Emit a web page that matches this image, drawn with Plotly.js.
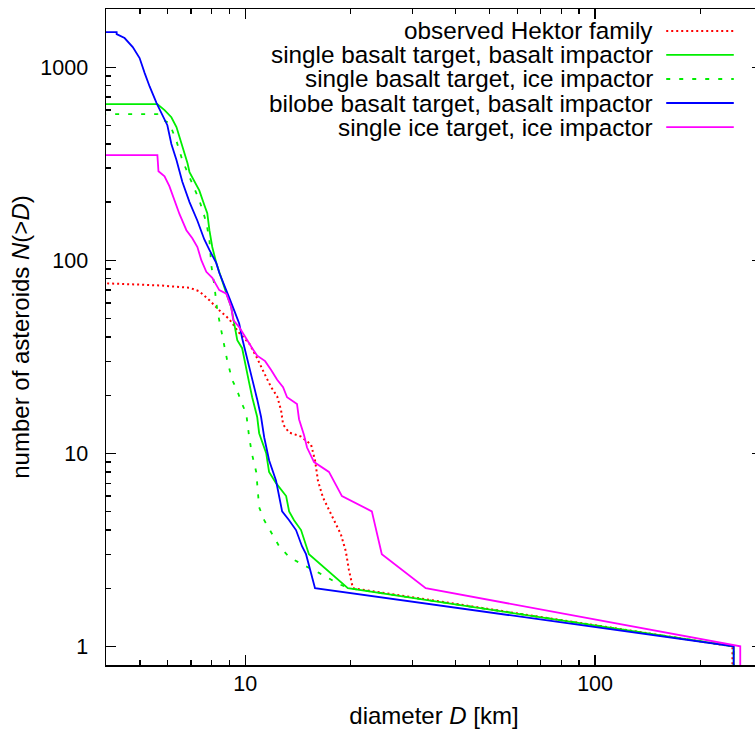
<!DOCTYPE html>
<html><head><meta charset="utf-8">
<script src="https://cdn.plot.ly/plotly-3.0.1.min.js"></script>
<style>html,body{margin:0;padding:0;overflow:hidden;background:#fff}#chart{width:770px;height:738px}</style>
</head><body><div id="chart"></div>
<script>
// observed Hektor family
const hektorD = [3.9, 5.69, 6.93, 7.39, 7.90, 8.43, 9.00, 9.61, 10.27, 10.82, 11.33, 11.86, 12.34, 12.66, 12.83, 13.35, 14.44, 15.42, 15.83, 16.14, 16.68, 17.69, 18.77, 19.39, 19.78, 20.31, 247, 247];
const hektorN = [76, 74, 72, 69, 62, 55, 49.5, 42, 37, 31, 26, 22, 19.7, 16.7, 14.1, 12.8, 12.2, 11.1, 9.2, 7.2, 5.9, 4.7, 3.8, 3.1, 2.5, 2, 1, 0.1];
// single basalt target, basalt impactor
const sbbD = [3.9, 5.61, 5.88, 6.15, 6.36, 6.61, 6.84, 6.93, 7.16, 7.39, 7.64, 7.79, 7.90, 8.05, 8.27, 8.54, 8.83, 9.12, 9.30, 9.49, 9.80, 10.07, 10.27, 10.47, 10.82, 10.96, 11.48, 11.70, 12.25, 13.09, 13.35, 13.79, 14.44, 15.21, 19.65, 249, 249];
const sbbN = [643, 643, 599, 550, 489, 394, 318, 286, 254, 230, 193, 175, 143, 117, 96.5, 80, 67.5, 57, 47, 38.5, 35, 28, 23, 19.5, 15.4, 12.7, 10, 8, 7, 6, 5, 4.5, 4, 3, 2, 1, 0.1];
// single basalt target, ice impactor
const sbiD = [3.9, 5.61, 5.69, 6.07, 6.36, 6.61, 6.93, 7.25, 7.39, 7.74, 7.90, 8.00, 8.16, 8.32, 8.54, 8.71, 8.89, 9.18, 9.49, 9.80, 10.07, 10.27, 10.47, 10.75, 10.96, 11.33, 11.86, 12.50, 13.35, 14.53, 16.25, 18.53, 19.78, 249, 249];
const sbiN = [571, 571, 544, 513, 414, 330, 269, 225, 205, 157, 127, 94, 74, 55, 43, 35, 30, 24, 21, 18, 16, 12, 9.8, 8, 5.25, 4.5, 3.9, 3.3, 2.9, 2.66, 2.4, 2.1, 2, 1, 0.1];
// bilobe basalt target, basalt impactor
const bbbD = [3.9, 4.29, 4.29, 4.52, 4.77, 4.99, 5.16, 5.33, 5.58, 5.80, 5.99, 6.15, 6.36, 6.61, 6.93, 7.30, 7.64, 7.90, 8.27, 8.43, 8.71, 9.00, 9.37, 9.61, 9.80, 10.13, 10.47, 10.82, 11.10, 11.33, 11.70, 12.25, 12.75, 13.35, 13.97, 14.53, 14.92, 15.83, 249, 249];
const bbbN = [1518, 1518, 1483, 1414, 1270, 1114, 931, 794, 651, 564, 500, 400, 330, 255, 200, 160, 128, 113, 96.5, 86, 75, 64, 53, 47, 39.4, 31.4, 24.2, 19, 15.4, 12.1, 9.2, 7.2, 5, 4.5, 4, 3.3, 3, 2, 1, 0.1];
// single ice target, ice impactor
const siiD = [3.9, 5.61, 5.65, 5.88, 6.07, 6.28, 6.49, 6.79, 7.06, 7.30, 7.49, 7.74, 8.05, 8.43, 8.83, 9.12, 9.24, 9.61, 10.07, 10.47, 10.82, 11.40, 11.86, 12.34, 12.83, 13.17, 14.06, 14.25, 14.73, 15.02, 15.73, 17.35, 18.90, 23.01, 24.57, 32.8, 260, 260];
const siiN = [350, 350, 289, 272, 242, 205, 173, 143, 130, 117, 100, 87, 81, 70, 67, 57, 49, 45, 39, 35, 32, 30, 27, 24, 22, 19.5, 18, 15, 12.4, 10.7, 9, 8, 6, 5, 3, 2, 1, 0.1];

const seriesNames = ['observed Hektor family', 'single basalt target, basalt impactor', 'single basalt target, ice impactor', 'bilobe basalt target, basalt impactor', 'single ice target, ice impactor'];
const xTickVals = [10, 100];
const xTickText = ['10', '100'];
const yTickVals = [1, 10, 100, 1000];
const yTickText = ['1', '10', '100', '1000'];
const xMinorVals = [5, 6, 7, 8, 9, 20, 30, 40, 50, 60, 70, 80, 90, 200];
const yMinorVals = [2, 3, 4, 5, 6, 7, 8, 9, 20, 30, 40, 50, 60, 70, 80, 90, 200, 300, 400, 500, 600, 700, 800, 900];

const FONT = '"Liberation Sans", Arial, Helvetica, sans-serif';
const styles = [
  {color: '#ff0000', dash: '2px,3px', width: 2},
  {color: '#00ee00', dash: 'solid', width: 1.8},
  {color: '#00ee00', dash: '4px,9px', width: 1.8},
  {color: '#0000ff', dash: 'solid', width: 1.8},
  {color: '#ff00ff', dash: 'solid', width: 1.8}
];
const xs = [hektorD, sbbD, sbiD, bbbD, siiD];
const ys = [hektorN, sbbN, sbiN, bbbN, siiN];

const traces = xs.map((x, i) => ({
  x: x, y: ys[i], type: 'scatter', mode: 'lines', name: seriesNames[i],
  line: {color: styles[i].color, dash: styles[i].dash, width: styles[i].width},
  showlegend: false, hoverinfo: 'skip'
}));

// legend drawn gnuplot-style: right-aligned text, sample line to the right
const rowY = [0.9665, 0.930, 0.8933, 0.8567, 0.820];
const annotations = seriesNames.map((t, i) => ({
  text: t, xref: 'paper', yref: 'paper', x: 0.837, y: rowY[i],
  xanchor: 'right', yanchor: 'middle', showarrow: false,
  font: {family: FONT, size: 24.3, color: '#000'}
}));
const shapes = seriesNames.map((t, i) => ({
  type: 'line', xref: 'paper', yref: 'paper', x0: 0.854, x1: 0.957, y0: rowY[i], y1: rowY[i],
  line: {color: styles[i].color, dash: styles[i].dash, width: styles[i].width}
}));

const axisCommon = {
  type: 'log', showgrid: false, zeroline: false,
  showline: true, linecolor: '#000', linewidth: 1.5, mirror: 'ticks',
  ticks: 'inside', ticklen: 10, tickwidth: 1.2, tickcolor: '#000',
  tickmode: 'array',
  tickfont: {family: FONT, size: 21.5, color: '#000'}
};

const layout = {
  width: 770, height: 738,
  margin: {l: 106, r: 8, t: 9, b: 73},
  paper_bgcolor: '#fff', plot_bgcolor: '#fff',
  font: {family: FONT, size: 22.5, color: '#000'},
  xaxis: Object.assign({}, axisCommon, {
    range: [Math.log10(4), Math.log10(300)],
    tickvals: xTickVals, ticktext: xTickText,
    minor: {tickmode: 'array', tickvals: xMinorVals, ticks: 'inside', ticklen: 5, tickwidth: 1.2, tickcolor: '#000'},
    ticklabelstandoff: -1,
    title: {text: 'diameter <i>D</i> [km]', font: {family: FONT, size: 24}, standoff: 12}
  }),
  yaxis: Object.assign({}, axisCommon, {
    range: [Math.log10(0.8), Math.log10(2000)],
    tickvals: yTickVals, ticktext: yTickText,
    minor: {tickmode: 'array', tickvals: yMinorVals, ticks: 'inside', ticklen: 5, tickwidth: 1.2, tickcolor: '#000'},
    ticklabelstandoff: 12,
    title: {text: 'number of asteroids <i>N</i>(&gt;<i>D</i>)', font: {family: FONT, size: 24}, standoff: 4}
  }),
  annotations: annotations,
  shapes: shapes
};

Plotly.newPlot('chart', traces, layout, {staticPlot: true, displayModeBar: false});
</script>
</body></html>
